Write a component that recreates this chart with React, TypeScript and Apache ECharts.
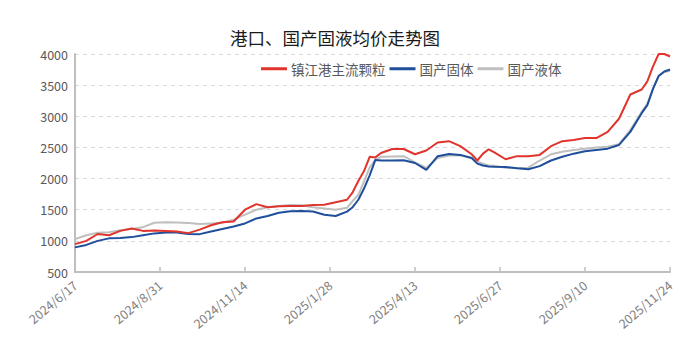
import React, { useEffect, useRef } from "react";
import * as echarts from "echarts";

const titleText = "港口、国产固液均价走势图";
const seriesNames = ["镇江港主流颗粒", "国产固体", "国产液体"];
const startDate = "2024-06-17";
const endDate = "2025-11-24";

const dates = [
  "2024-06-17", "2024-06-27", "2024-07-07", "2024-07-17", "2024-07-27", "2024-08-06",
  "2024-08-16", "2024-08-26", "2024-09-05", "2024-09-15", "2024-09-25", "2024-10-05",
  "2024-10-15", "2024-10-25", "2024-11-04", "2024-11-14", "2024-11-24", "2024-12-04",
  "2024-12-14", "2024-12-24", "2025-01-03", "2025-01-13", "2025-01-23", "2025-02-02",
  "2025-02-12", "2025-02-17", "2025-02-22", "2025-02-27", "2025-03-04", "2025-03-09",
  "2025-03-14", "2025-03-24", "2025-04-03", "2025-04-13", "2025-04-23", "2025-05-03",
  "2025-05-13", "2025-05-23", "2025-06-02", "2025-06-07", "2025-06-12", "2025-06-17",
  "2025-06-22", "2025-07-02", "2025-07-12", "2025-07-22", "2025-08-01", "2025-08-11",
  "2025-08-21", "2025-08-31", "2025-09-10", "2025-09-20", "2025-09-30", "2025-10-10",
  "2025-10-20", "2025-10-30", "2025-11-04", "2025-11-09", "2025-11-14", "2025-11-19",
  "2025-11-24",
];

const portGranule = [
  947, 1000, 1110, 1090, 1160, 1200, 1160, 1165, 1160, 1150, 1124, 1180,
  1250, 1300, 1310, 1500, 1590, 1540, 1555, 1560, 1560, 1575, 1580, 1620,
  1660, 1780, 1960, 2120, 2350, 2340, 2410, 2475, 2475, 2390, 2450, 2580,
  2600, 2520, 2390, 2290, 2400, 2470, 2420, 2310, 2360, 2360, 2380, 2520,
  2600, 2620, 2650, 2650, 2750, 2960, 3350, 3430, 3560, 3800, 4000, 4000,
  3960,
];

const domesticSolid = [
  895, 935, 1000, 1040, 1045, 1060, 1090, 1120, 1134, 1134, 1110, 1108,
  1150, 1190, 1230, 1280, 1360, 1400, 1450, 1475, 1480, 1470, 1420, 1400,
  1470, 1540, 1660, 1840, 2050, 2300, 2290, 2290, 2295, 2250, 2140, 2360,
  2395, 2380, 2330, 2240, 2210, 2195, 2190, 2185, 2165, 2150, 2200, 2290,
  2350, 2400, 2440, 2460, 2480, 2540, 2750, 3050, 3180, 3440, 3650, 3720,
  3750,
];

const domesticLiquid = [
  1027, 1090, 1130, 1140, 1170, 1190, 1220, 1290, 1300, 1295, 1285, 1270,
  1280, 1290, 1340, 1420, 1500, 1540, 1560, 1575, 1570, 1540, 1520, 1500,
  1530, 1640, 1740, 1950, 2180, 2300, 2350, 2355, 2360, 2260, 2170, 2330,
  2370, 2370, 2330, 2270, 2240, 2210, 2205, 2175, 2170, 2175, 2290, 2390,
  2430, 2460, 2480, 2500, 2510, 2550, 2780, 3070, 3200, 3450, 3640, 3710,
  3730,
];

const yTicks = [500, 1000, 1500, 2000, 2500, 3000, 3500, 4000];

const DAY = 86400000;
const toUTC = (s: string) => {
  const [y, m, d] = s.split("-").map(Number);
  return Date.UTC(y, m - 1, d);
};
const t0 = toUTC(startDate);
const dayIndex = (s: string) => Math.round((toUTC(s) - t0) / DAY);
const totalDays = dayIndex(endDate);
const labelStep = 75;

const fmt = (v: number) => {
  const d = new Date(t0 + v * DAY);
  return `${d.getUTCFullYear()}/${d.getUTCMonth() + 1}/${d.getUTCDate()}`;
};

const pair = (vals: number[]) => dates.map((d, i) => [dayIndex(d), vals[i]]);

export default function App() {
  const ref = useRef<HTMLDivElement>(null);
  useEffect(() => {
    if (!ref.current) return;
    const chart = echarts.init(ref.current, undefined, { renderer: "svg" });
    const colors = ["#E0342C", "#1F4E9B", "#BFBFBF"];
    const vals = [portGranule, domesticSolid, domesticLiquid];
    chart.setOption({
      animation: false,
      backgroundColor: "#ffffff",
      title: {
        text: titleText,
        left: 330,
        textAlign: "center",
        top: 24,
        textStyle: {
          fontSize: 17.5,
          fontWeight: "normal",
          color: "#1a1a1a",
          fontFamily: "Noto Sans CJK SC",
        },
      },
      legend: {
        left: 256,
        top: 57,
        itemWidth: 26,
        itemHeight: 3,
        itemGap: 4,
        icon: "rect",
        textStyle: { fontSize: 13.5, color: "#595959", fontFamily: "Noto Sans CJK SC", padding: [0, 0, 0, -1] },
        data: seriesNames,
      },
      grid: { left: 75, right: 30, top: 54, bottom: 92, containLabel: false },
      xAxis: {
        type: "value",
        min: 0,
        max: totalDays,
        interval: labelStep,
        axisLine: { show: true, lineStyle: { color: "#BFBFBF", width: 2 } },
        axisTick: { show: true, inside: true, length: 5, lineStyle: { color: "#BFBFBF", width: 1.5 } },
        splitLine: { show: false },
        axisLabel: {
          rotate: 40,
          color: "#808080",
          fontSize: 12.5,
          margin: 11,
          fontFamily: "Noto Sans CJK SC",
          formatter: (v: number) => fmt(v),
        },
      },
      yAxis: {
        type: "value",
        min: yTicks[0],
        max: yTicks[yTicks.length - 1],
        interval: 500,
        axisLine: { show: true, lineStyle: { color: "#BFBFBF", width: 2 } },
        axisTick: { show: false },
        splitLine: { show: true, lineStyle: { color: "#D9D9D9", type: [4, 4], width: 1 } },
        axisLabel: {
          color: "#595959",
          fontSize: 12.5,
          margin: 7,
          fontFamily: "Noto Sans CJK SC",
          formatter: (v: number) => String(v),
        },
      },
      series: seriesNames.map((name, i) => ({
        name,
        type: "line",
        data: pair(vals[i]),
        showSymbol: false,
        symbol: "none",
        z: 3 - i,
        lineStyle: { color: colors[i], width: 2 },
        itemStyle: { color: colors[i] },
      })),
    });
    return () => chart.dispose();
  }, []);
  return (
    <div
      ref={ref}
      style={{ position: "fixed", left: 0, top: 0, width: 700, height: 364 }}
    />
  );
}
